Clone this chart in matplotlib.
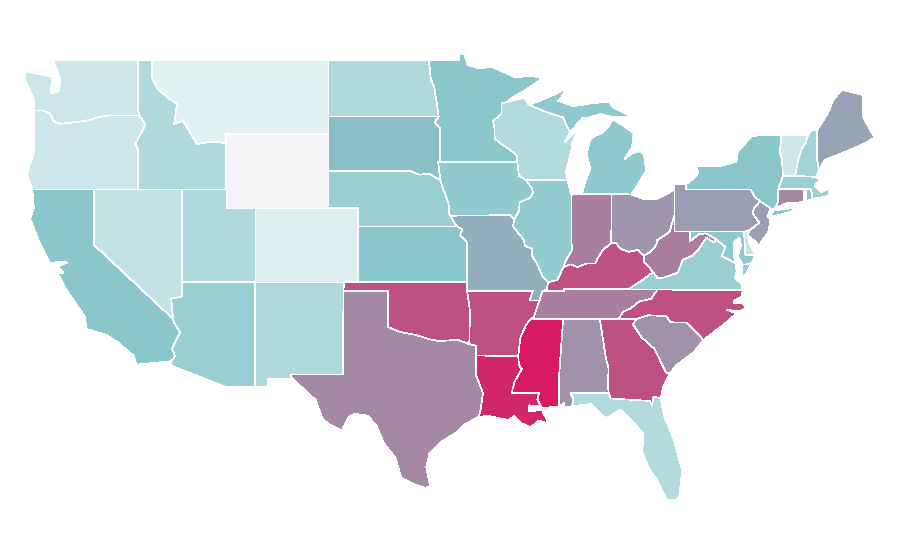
import matplotlib
matplotlib.use('Agg')
import matplotlib.pyplot as plt
from matplotlib.collections import PolyCollection
from matplotlib.colors import LinearSegmentedColormap, Normalize

# borders shared by more than one state, (lon, lat)
stcroix = [(-92.29,46.66),(-92.29,46.07),(-92.87,45.7),(-92.76,45.3),(-92.75,44.75),(-92.3,44.45),(-91.9,44.25),(-91.25,43.85),(-91.22,43.5)]
miss_wi = [(-91.22,43.5),(-91.1,42.75),(-90.64,42.51)]
miss_ia = [(-90.64,42.51),(-90.2,42.05),(-90.15,41.8),(-90.35,41.55),(-91.05,41.3),(-91.1,40.85),(-91.42,40.38)]
miss_mo = [(-91.42,40.38),(-91.5,40.0),(-90.75,39.25),(-90.7,38.95),(-90.2,38.8),(-90.2,38.4),(-89.85,37.95),(-89.5,37.3),(-89.13,36.98)]
miss_ar = [(-90.3,35.0),(-90.6,34.7),(-91.0,34.0),(-91.15,33.0)]
miss_la = [(-91.15,33.0),(-91.1,32.5),(-90.9,32.3),(-91.4,31.6),(-91.6,31.0)]
tn_river = [(-89.7,36.0),(-90.1,35.1),(-90.3,35.0)]
missouri_r = [(-96.45,42.49),(-96.25,42.0),(-96.1,41.7),(-95.92,41.3),(-95.85,41.0),(-95.85,40.7),(-95.77,40.58)]
missouri_ks = [(-95.77,40.58),(-95.55,40.26),(-95.31,40.0)]
missouri_ks2 = [(-95.31,40.0),(-94.95,39.85),(-95.1,39.55),(-94.88,39.35),(-94.61,39.11)]
ohio_il = [(-89.13,36.98),(-88.5,37.1),(-88.07,37.8)]
ohio_in = [(-88.07,37.8),(-87.6,37.95),(-87.1,37.8),(-86.5,38.0),(-85.9,38.0),(-85.75,38.27),(-85.4,38.72),(-84.82,39.1)]
ohio_oh = [(-84.82,39.1),(-84.5,39.1),(-84.2,38.8),(-83.65,38.63),(-83.0,38.73),(-82.6,38.42)]
ohio_wv = [(-82.6,38.42),(-82.2,38.6),(-81.75,39.0),(-81.7,39.25),(-80.85,39.7),(-80.52,40.64)]
wabash = [(-88.07,37.8),(-87.95,38.1),(-87.5,38.7),(-87.53,39.35),(-87.53,41.7)]
red_r = [(-94.48,33.64),(-95.3,33.88),(-96.5,33.8),(-97.2,33.9),(-98.1,34.13),(-99.2,34.3),(-100,34.56)]
tug = [(-82.6,38.42),(-82.6,38.1),(-81.97,37.54)]
ky_va = [(-81.97,37.54),(-82.7,37.1),(-83.68,36.6)]
ky_tn = [(-83.68,36.6),(-88.05,36.6),(-88.05,36.5),(-89.5,36.5)]
va_wv = [(-81.97,37.54),(-81.68,37.2),(-81.23,37.24),(-80.3,37.5),(-79.95,38.2),(-79.3,38.42),(-78.87,38.77),(-78.35,39.4),(-77.83,39.13),(-77.72,39.32)]
md_wv = [(-77.72,39.32),(-78.35,39.62),(-78.8,39.6),(-79.48,39.2),(-79.48,39.72)]
potomac = [(-77.72,39.32),(-77.05,38.9),(-77.3,38.4),(-76.35,38.0)]
nc_tn = [(-84.32,35.0),(-84.0,35.4),(-83.5,35.57),(-82.9,35.95),(-82.6,36.0),(-82.1,36.1),(-81.68,36.59)]
nc_sc = [(-78.55,33.86),(-79.67,34.8),(-80.8,34.82),(-81.05,35.15),(-82.3,35.2),(-83.11,35.0)]
savannah = [(-83.11,35.0),(-83.35,34.7),(-82.75,34.0),(-81.9,33.4),(-81.4,32.6),(-81.12,32.12),(-80.85,32.03)]
chatt = [(-85.6,34.98),(-85.18,32.87),(-85.0,32.3),(-85.05,31.5),(-85.0,31.0)]
sabine = [(-94.04,33.02),(-94.04,32.0),(-93.55,31.0),(-93.7,30.1),(-93.85,29.7)]
pearl = [(-89.73,31.0),(-89.85,30.65),(-89.55,30.2)]
mt_id = [(-111.05,44.48),(-111.5,44.55),(-112.3,44.55),(-113.0,44.45),(-113.45,45.05),(-113.95,45.7),(-114.55,45.55),(-114.35,46.65),(-114.9,46.9),(-115.7,47.45),(-116.05,48.0),(-116.05,49)]
columbia = [(-124.05,46.27),(-123.5,46.27),(-123.0,46.1),(-122.7,45.65),(-122.25,45.55),(-121.2,45.65),(-120.6,45.7),(-119.6,45.92),(-118.98,46.0),(-116.92,45.99)]
snake = [(-116.92,45.99),(-116.5,45.5),(-117.2,44.45),(-117.03,44.2),(-117.03,42)]
colorado_r = [(-114.75,36.1),(-114.63,35.0),(-114.6,34.85),(-114.15,34.27),(-114.7,33.4),(-114.5,33.0),(-114.72,32.72)]
sd_mn = [(-96.45,43.5),(-96.45,45.3),(-96.85,45.6),(-96.56,45.94)]
ne_sd = [(-96.45,42.49),(-97.2,42.85),(-97.9,42.8),(-98.5,43.0),(-104.05,43.0)]
pa_ny_nj = [(-75.35,42.0),(-75.05,41.6),(-74.7,41.36)]
pa_nj = [(-74.7,41.36),(-75.1,41.0),(-75.2,40.7),(-74.75,40.2),(-75.4,39.8)]
vt_nh = [(-71.43,44.95),(-71.6,44.5),(-71.84,44.24),(-72.1,43.6),(-72.32,42.72)]
ny_vt = [(-73.25,44.95),(-73.35,44.0),(-73.2,43.6),(-73.15,42.72)]
nh_me = [(-70.82,45.2),(-70.82,43.6),(-70.7,43.07)]

states = ['WA','OR','CA','NV','ID','MT','WY','UT','AZ','NM','CO','ND','SD','NE','KS','OK','TX','MN','IA','MO','AR','LA',
          'WI','IL','MS','MI','MIU','IN','OH','KY','TN','AL','GA','FL','SC','NC','VA','VAE','WV','PA','NY','LI','NJ','DE','MD',
          'CT','RI','MA','VT','NH','ME']

values = [18,18,49,22,32,8,0,32,42,32,10,32,52,42,49,84,68,49,46,57,84,96,
          30,45,100,47,47,71,64,84,71,65,84,30,65,84,42,42,71,62,49,49,62,22,47,
          68,49,40,18,37,60]

WA = [(-124.7,48.38),(-123.2,48.15),(-122.85,48.1),(-122.95,47.2),(-122.4,47.3),(-122.3,47.9),(-122.5,48.4),(-122.8,49),(-117.03,49),(-117.03,46.42)] + columbia[::-1] + [(-124.1,46.9),(-124.7,47.9)]
OR = columbia + snake[1:] + [(-124.2,42),(-124.55,42.85),(-124.1,44.0)]
CA = [(-124.2,42),(-120,42),(-120,39)] + colorado_r[1:] + [(-117.12,32.53),(-117.3,33.0),(-118.4,33.75),(-119.2,34.15),(-120.5,34.45),(-120.65,35.15),(-121.9,36.6),(-122.5,37.5),(-122.1,37.5),(-122.45,37.85),(-121.8,38.05),(-122.4,38.1),(-123,38.0),(-123.8,39.3),(-124.35,40.4),(-124.1,41.0)]
NV = [(-120,42),(-114.04,42),(-114.04,36.2),(-114.75,36.1),(-114.63,35.0),(-120,39)]
ID = [(-117.03,49)] + mt_id[::-1] + [(-111.05,42)] + snake[::-1] + [(-117.03,46.42)]
MT = mt_id[::-1] + [(-111.05,45),(-104.05,45),(-104.05,49)]
WY = [(-111.05,45),(-104.05,45),(-104.05,41),(-111.05,41)]
UT = [(-114.04,42),(-111.05,42),(-111.05,41),(-109.05,41),(-109.05,37),(-114.04,37)]
AZ = [(-114.04,37),(-109.05,37),(-109.05,31.33),(-111.07,31.33),(-114.82,32.5)] + colorado_r[::-1] + [(-114.04,36.2)]
NM = [(-109.05,37),(-103,37),(-103.04,36.5),(-103.06,32),(-106.62,32),(-106.53,31.78),(-108.2,31.78),(-108.2,31.33),(-109.05,31.33)]
CO = [(-109.05,41),(-102.05,41),(-102.05,37),(-109.05,37)]
ND = [(-104.05,49),(-97.23,49),(-97.1,48),(-96.85,47.5),(-96.56,45.94),(-104.05,45.94)]
SD = [(-104.05,45.94),(-96.56,45.94)] + sd_mn[::-1][1:] + [(-96.6,43.5)] + ne_sd
NE = ne_sd[::-1] + missouri_r[1:] + missouri_ks[1:] + [(-102.05,40),(-102.05,41),(-104.05,41)]
KS = [(-102.05,40)] + missouri_ks2 + [(-94.62,37),(-102.05,37)]
OK = [(-103,37),(-94.62,37),(-94.62,36.5),(-94.43,35.4)] + red_r + [(-100,36.5),(-103.04,36.5)]
TX = [(-103.04,36.5),(-100,36.5)] + red_r[::-1] + [(-94.04,33.55)] + sabine + [(-94.7,29.35),(-95.3,28.9),(-96.4,28.35),(-97.2,27.7),(-97.4,27.0),(-97.15,25.96),(-97.5,25.87),(-98.2,26.05),(-99.1,26.4),(-99.5,27.5),(-100.3,28.3),(-100.8,29.25),(-101.4,29.77),(-102.3,29.88),(-102.7,29.7),(-103.15,28.98),(-104.0,29.3),(-104.5,29.65),(-104.9,30.6),(-106.0,31.4),(-106.53,31.78),(-106.62,32),(-103.06,32)]
MN = [(-97.23,49),(-95.15,49),(-95.15,49.38),(-94.8,49.3),(-94.6,48.72),(-93.8,48.55),(-92.95,48.62),(-92.0,48.3),(-91.4,48.07),(-90.75,48.1),(-90.0,48.1),(-89.5,48.0),(-90.8,47.3),(-91.5,47.0),(-92.01,46.7)] + stcroix + sd_mn + [(-96.85,47.5),(-97.1,48)]
IA = [(-96.6,43.5),(-91.22,43.5)] + miss_wi[1:] + miss_ia[1:] + [(-91.73,40.61)] + missouri_r[::-1]
MO = [(-95.77,40.58),(-91.73,40.61)] + miss_mo + [(-89.2,36.6),(-89.5,36.5)] + [(-89.7,36.0),(-90.37,36.0),(-90.15,36.5),(-94.62,36.5),(-94.62,37)] + missouri_ks2[::-1] + missouri_ks[::-1][1:]
AR = [(-94.62,36.5),(-90.15,36.5),(-90.37,36.0)] + tn_river + miss_ar[1:] + [(-94.04,33.02),(-94.04,33.55),(-94.48,33.64),(-94.43,35.4)]
LA = sabine + [(-93.2,29.77),(-92.3,29.6),(-91.8,29.55),(-91.4,29.75),(-90.9,29.35),(-90.3,29.15),(-89.75,29.5),(-89.3,29.4),(-89.1,29.05),(-89.2,29.6),(-89.45,29.9),(-89.5,30.05),(-89.7,30.05),(-90.4,30.03),(-90.4,30.33),(-89.75,30.3),(-89.6,30.2)] + pearl[::-1] + [(-91.6,31.0)] + miss_la[::-1]
WI = [(-92.29,46.66),(-92.01,46.7),(-91.2,46.87),(-90.75,46.95),(-90.42,46.57),(-89.1,46.14),(-88.1,45.9),(-87.8,45.35),(-87.6,45.1),(-88.0,44.55),(-87.05,45.25),(-87.5,44.5),(-87.5,44.2),(-87.9,43.0),(-87.8,42.49)] + miss_wi[::-1] + stcroix[::-1][1:]
IL = [(-90.64,42.51),(-87.8,42.49)] + wabash[::-1] + ohio_il[::-1][1:] + miss_mo[::-1][1:] + miss_ia[::-1][1:]
MS = [(-90.3,35.0),(-88.1,35.0),(-88.37,31.9),(-88.37,30.25)] + pearl[::-1] + [(-91.6,31.0)] + miss_la[::-1][1:] + miss_ar[::-1][1:]
MI = [(-86.82,41.76),(-84.8,41.76),(-83.45,41.73),(-83.15,42.1),(-82.45,43.0),(-82.6,43.9),(-82.95,44.07),(-83.4,43.95),(-83.9,43.65),(-83.4,44.3),(-83.3,45.05),(-84.1,45.5),(-84.75,45.78),(-85.0,45.4),(-85.55,45.0),(-85.9,44.9),(-86.25,44.7),(-86.5,43.9),(-86.25,43.1),(-86.6,42.4)]
MIU = [(-90.42,46.57),(-89.5,46.85),(-88.5,47.2),(-87.9,47.47),(-88.2,47.0),(-88.45,46.8),(-87.4,46.5),(-86.2,46.65),(-85.0,46.75),(-84.7,46.45),(-84.1,46.2),(-83.5,45.95),(-84.75,45.9),(-85.5,46.08),(-86.3,45.9),(-86.8,45.85),(-87.6,45.1),(-87.8,45.35),(-88.1,45.9),(-89.1,46.14)]
IN = [(-87.53,41.7),(-87.2,41.76),(-86.82,41.76),(-84.8,41.76)] + ohio_in[::-1] + wabash[1:-1]
OH = [(-84.8,41.76),(-83.45,41.73),(-82.7,41.5),(-81.7,41.5),(-80.52,41.98)] + ohio_wv[::-1] + ohio_oh[::-1][1:]
KY = ohio_il + ohio_in[1:] + ohio_oh[1:] + tug[1:] + ky_va[1:] + ky_tn[1:] + [(-89.2,36.6)]
TN = [(-89.7,36.0)] + ky_tn[::-1] + [(-81.68,36.59)] + nc_tn[::-1][1:] + [(-85.6,34.98),(-88.1,35.0),(-90.3,35.0),(-90.1,35.1)]
AL = [(-88.1,35.0)] + chatt + [(-87.6,31.0),(-87.4,30.65),(-87.5,30.28),(-88.0,30.23),(-88.05,30.45),(-88.37,30.25),(-88.37,31.9)]
GA = [(-85.6,34.98)] + savannah + [(-81.3,31.3),(-81.45,30.72),(-81.95,30.8),(-82.05,30.36),(-82.2,30.57),(-84.86,30.7)] + chatt[::-1]
FL = [(-87.6,31.0),(-85.0,31.0),(-84.86,30.7),(-82.2,30.57),(-82.05,30.36),(-81.95,30.8),(-81.45,30.72),(-81.25,29.8),(-80.55,28.45),(-80.0,26.8),(-80.2,25.4),(-80.4,25.2),(-81.05,25.2),(-81.7,26.3),(-82.25,26.9),(-82.7,27.8),(-82.65,28.8),(-83.4,29.5),(-84.2,30.1),(-85.1,29.65),(-85.4,29.75),(-86.2,30.4),(-87.5,30.28),(-87.4,30.65)]
SC = nc_sc + savannah[1:] + [(-80.4,32.5),(-79.2,33.2)]
NC = [(-75.87,36.55),(-75.95,36.2),(-76.45,36.0),(-76.5,35.85),(-75.9,35.85),(-75.65,35.6),(-76.1,35.4),(-76.95,35.5),(-76.3,35.3),(-76.95,34.84)] + nc_sc + [(-84.32,35.0)] + nc_tn[1:]
VA = [(-83.68,36.6),(-81.68,36.59),(-75.87,36.55),(-76.0,36.93),(-76.4,37.2),(-76.3,37.55)] + potomac[::-1] + va_wv[::-1][1:] + ky_va[1:-1]
VAE = [(-75.95,37.15),(-75.9,37.95),(-75.65,37.95),(-75.25,38.03),(-75.6,37.5)]
WV = [(-80.52,40.64),(-80.52,39.72)] + md_wv[::-1] + va_wv[::-1][1:] + tug[::-1][:-1] + ohio_wv
PA = [(-80.52,41.98),(-80.52,42.27),(-79.76,42.27),(-79.76,42.0)] + pa_ny_nj + pa_nj[1:] + [(-75.79,39.72),(-80.52,39.72)]
NY = [(-79.76,42.27),(-79.05,42.7),(-78.9,42.9),(-79.05,43.27),(-77.5,43.25),(-76.3,43.5),(-76.2,44.05),(-75.3,44.85),(-74.7,44.95)] + ny_vt + [(-73.45,42.05),(-73.5,41.3),(-73.65,41.0),(-73.9,40.9),(-74.0,41.0)] + pa_ny_nj[::-1] + [(-79.76,42.0)]
LI = [(-74.0,40.6),(-73.75,40.87),(-72.6,40.98),(-72.0,41.1),(-72.6,40.8),(-73.6,40.58)]
NJ = [(-74.7,41.36),(-74.0,41.0),(-74.2,40.5),(-74.0,40.45),(-74.1,39.75),(-74.8,38.95),(-75.0,39.2),(-75.55,39.5)] + pa_nj[::-1][:-1]
DE = [(-75.79,39.72),(-75.4,39.8),(-75.55,39.5),(-75.4,39.05),(-75.05,38.45),(-75.7,38.46)]
MD = [(-79.48,39.72),(-75.79,39.72),(-75.7,38.46),(-75.05,38.45),(-75.25,38.03),(-75.65,37.95),(-75.9,37.95),(-76.2,38.4),(-76.0,39.0),(-76.1,39.4),(-76.5,39.15),(-76.5,38.5)] + potomac[::-1] + md_wv[1:-1]
CT = [(-73.45,42.0),(-71.7,42.0),(-71.7,41.32),(-72.9,41.25),(-73.65,41.0),(-73.5,41.3)]
RI = [(-71.56,42.0),(-71.23,42.0),(-71.12,41.5),(-71.56,41.35)]
MA = [(-73.45,42.05),(-73.15,42.72),(-72.32,42.72),(-71.3,42.7),(-70.85,42.65),(-70.6,42.5),(-71.0,42.2),(-70.55,41.85),(-70.0,42.05),(-70.0,41.65),(-70.65,41.55),(-71.12,41.5),(-71.23,42.0),(-71.7,42.05)]
VT = ny_vt + vt_nh[::-1]
NH = vt_nh[:1] + [(-71.2,45.2)] + nh_me + [(-70.85,42.65),(-71.3,42.7)] + vt_nh[::-1]
ME = nh_me[:1] + [(-70.07,46.13),(-69.73,46.84),(-69.12,47.38),(-67.7,47.1),(-67.7,45.92),(-67.2,45.2),(-66.9,44.78),(-68.1,44.3),(-69.46,43.86),(-70.28,43.6),(-70.7,43.07),(-70.82,43.6)]

shapes = globals()
polys = [shapes[s] for s in states]

cmap = LinearSegmentedColormap.from_list('heat', [(0, '#f4f4f6'), (0.08, '#e2f1f2'), (0.5, '#88c6cc'), (1, '#d81b60')])

fig = plt.figure(figsize=(9, 5.6), dpi=100)
ax = fig.add_axes([0, 0, 1, 1])
coll = PolyCollection(polys, array=values, cmap=cmap, norm=Normalize(0, 100),
                      edgecolors='white', linewidths=0.5, antialiased=False)
ax.add_collection(coll)
ax.set_xlim(-126.4, -65.18)
ax.set_ylim(21.97, 52.24)
ax.axis('off')
fig.savefig('out.png', dpi=100)
